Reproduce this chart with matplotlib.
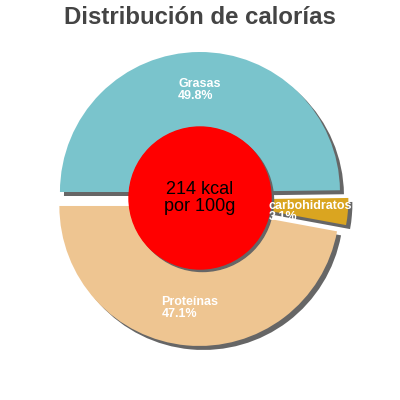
import matplotlib
matplotlib.use("Agg")
import matplotlib.pyplot as plt
from matplotlib.patches import Circle

categories = ["Grasas", "carbohidratos", "Proteínas"]
values = [49.8, 3.1, 47.1]
colors = ["#7ac4cc", "#daa520", "#eec591"]
explode_frac = [0.05, 0.06, 0.05]
title = "Distribución de calorías"
center_text = "214 kcal\npor 100g"

plt.rcParams['font.family'] = ['Liberation Sans', 'DejaVu Sans']

fig = plt.figure(figsize=(4, 4), dpi=100)
ax = fig.add_axes([0, 0, 1, 1])

cx, cy, r = 200, 201, 140
sh = 4  # shadow offset in px
explode = [e * r for e in explode_frac]

# shadow pie
ax.pie(values, colors=["#666666"] * 3, explode=explode, startangle=180,
       counterclock=False, radius=r, center=(cx + sh, cy - sh), frame=True,
       wedgeprops=dict(linewidth=0))
# main pie
labels = [f"{c}\n{v:.1f}%" for c, v in zip(categories, values)]
wedges, texts = ax.pie(values, colors=colors, explode=explode, startangle=180,
                       counterclock=False, radius=r, center=(cx, cy), frame=True,
                       labels=labels, labeldistance=0.73,
                       wedgeprops=dict(linewidth=0),
                       textprops=dict(color='white', fontsize=9, fontweight='bold'))
for t in texts:
    t.set_horizontalalignment('center')
    t.set_verticalalignment('center')
    t.set_multialignment('left')
    t.set_linespacing(0.95)
    t.set_zorder(10)
texts[1].set_y(texts[1].get_position()[1] - 3)

ax.set_xlim(0, 400)
ax.set_ylim(0, 400)
ax.set_aspect('equal')
ax.axis('off')

# center circle
ccx, ccy = cx, cy + 1
ax.add_patch(Circle((ccx + 2.5, ccy - 2.5), 71, color='#666666', zorder=5))
ax.add_patch(Circle((ccx, ccy), 71, color='#ff0000', zorder=6))
ax.text(ccx, ccy, center_text, ha='center', va='center', fontsize=13,
        color='black', zorder=7, linespacing=1.0)

fig.text(0.5, 0.955, title, ha='center', va='center', fontsize=17.3,
         fontweight='bold', color='#444444')

fig.savefig("out.png", dpi=100)
